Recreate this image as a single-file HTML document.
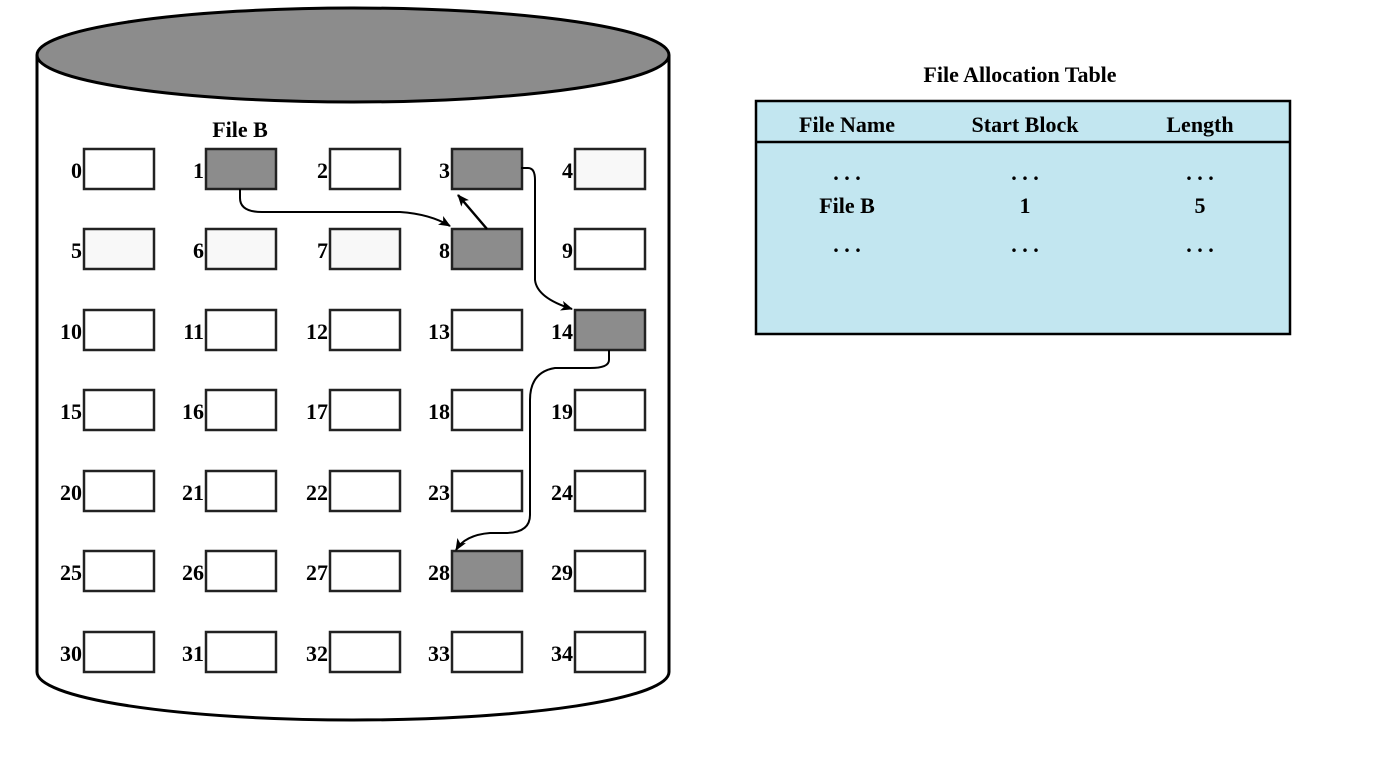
<!DOCTYPE html>
<html><head><style>body{margin:0;background:#fff}svg{display:block}</style></head>
<body>
<svg width="1375" height="762" viewBox="0 0 1375 762" xmlns="http://www.w3.org/2000/svg" font-family="Liberation Serif, serif" font-weight="bold">
<defs><marker id="a" markerWidth="12" markerHeight="10" refX="11" refY="5" orient="auto" markerUnits="userSpaceOnUse"><path d="M0,0 L12,5 L0,10 L3,5 z" fill="#000"/></marker></defs>
<!-- cylinder -->
<path d="M37,55 L37,672 A316,48 0 0 0 669,672 L669,55" fill="#fff" stroke="#000" stroke-width="3"/>
<ellipse cx="353" cy="55" rx="316" ry="47" fill="#8c8c8c" stroke="#000" stroke-width="3"/>
<text x="240" y="137" font-size="22" text-anchor="middle">File B</text>
<g font-size="22" text-anchor="end" stroke="#222" stroke-width="2.5">
<g id="boxes"></g>
</g>
<script>
var xs=[84,206,330,452,575],ys=[149,229,310,390,471,551,632],dark=[1,3,8,14,28],light=[4,5,6,7];
var g=document.getElementById('boxes'),ns='http://www.w3.org/2000/svg';
for(var r=0;r<7;r++)for(var c=0;c<5;c++){var n=r*5+c;
var rc=document.createElementNS(ns,'rect');rc.setAttribute('x',xs[c]);rc.setAttribute('y',ys[r]);rc.setAttribute('width',70);rc.setAttribute('height',40);
rc.setAttribute('fill',dark.indexOf(n)>=0?'#8c8c8c':(light.indexOf(n)>=0?'#f8f8f8':'#fff'));g.appendChild(rc);
var t=document.createElementNS(ns,'text');t.setAttribute('x',xs[c]-2);t.setAttribute('y',ys[r]+29);t.setAttribute('stroke','none');t.setAttribute('fill','#000');t.textContent=n;g.appendChild(t);}
</script>
<g fill="none" stroke="#000" stroke-width="2">
<path d="M240,189 L240,198 Q240,212 262,212 L400,212 Q430,214 450,226" marker-end="url(#a)"/>
<path d="M487,229 L458,195" stroke-width="2.5" marker-end="url(#a)"/>
<path d="M521,168 L528,168 Q535,168 535,180 L535,280 Q537,298 572,309" marker-end="url(#a)"/>
<path d="M609,350 L609,360 Q609,368 590,368 L555,368 Q530,372 530,400 L530,515 Q530,533 505,533 L490,533 Q465,535 456,550" marker-end="url(#a)"/>
</g>
<!-- table -->
<text x="1020" y="82" font-size="22" text-anchor="middle">File Allocation Table</text>
<rect x="756" y="101" width="534" height="233" fill="#c2e6f0" stroke="#000" stroke-width="2.5"/>
<line x1="756" y1="142" x2="1290" y2="142" stroke="#000" stroke-width="2.5"/>
<g font-size="22" text-anchor="middle">
<text x="847" y="132">File Name</text><text x="1025" y="132">Start Block</text><text x="1200" y="132">Length</text>
<text x="847" y="180">. . .</text><text x="1025" y="180">. . .</text><text x="1200" y="180">. . .</text>
<text x="847" y="213">File B</text><text x="1025" y="213">1</text><text x="1200" y="213">5</text>
<text x="847" y="252">. . .</text><text x="1025" y="252">. . .</text><text x="1200" y="252">. . .</text>
</g>
</svg>
</body></html>
